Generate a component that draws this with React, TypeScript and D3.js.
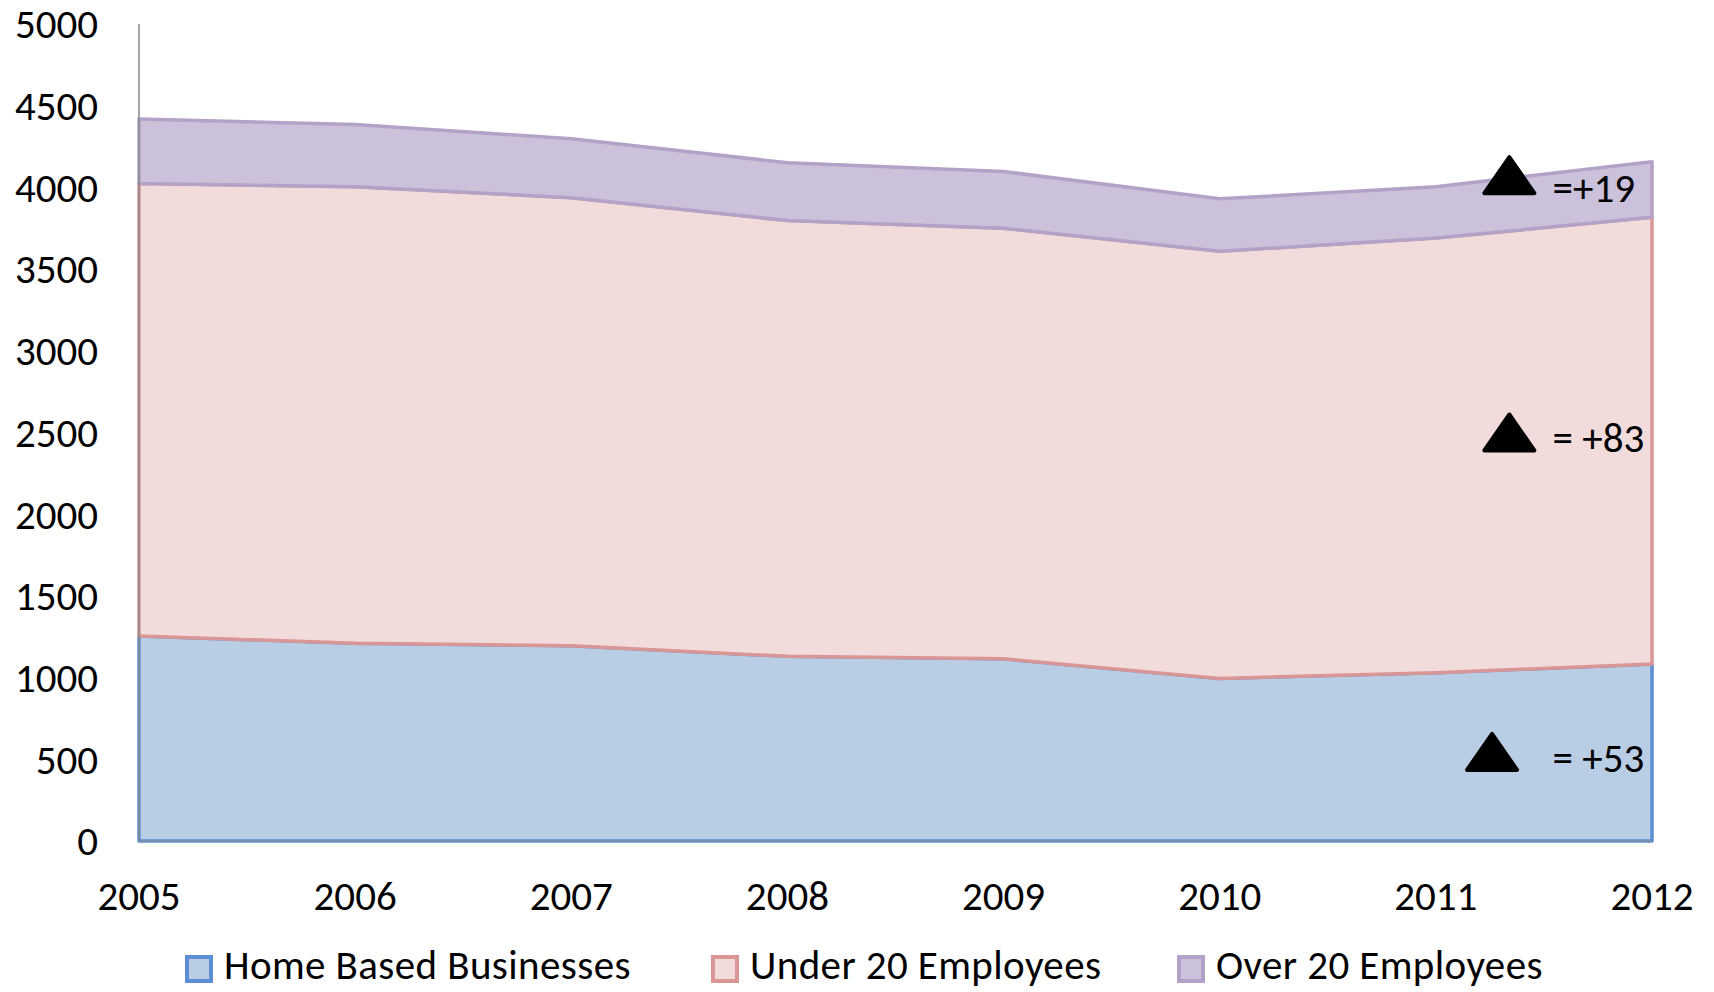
import React, { useEffect, useRef } from 'react';
import * as d3 from 'd3';

const years = [2005, 2006, 2007, 2008, 2009, 2010, 2011, 2012];
const homeBased = [1255, 1210, 1195, 1130, 1115, 995, 1030, 1083];
const under20 = [2769, 2794, 2742, 2667, 2635, 2614, 2660, 2734];
const over20 = [394, 381, 361, 354, 347, 321, 314, 340];
const yTicks = [0, 500, 1000, 1500, 2000, 2500, 3000, 3500, 4000, 4500, 5000];

const seriesNames = ['Home Based Businesses', 'Under 20 Employees', 'Over 20 Employees'];
const fills = ['#b9cde5', '#f2dcdb', '#ccc1da'];
const strokes = ['#5b8ed3', '#d99694', '#b3a2c7'];

// annotation markers: triangle position (year, value), label position
const notes = [
  { tx: 2011.34, ty: 4075, lx: 2011.54, ly: 4000, text: '=+19' },
  { tx: 2011.34, ty: 2500, lx: 2011.54, ly: 2470, text: '= +83' },
  { tx: 2011.26, ty: 545, lx: 2011.54, ly: 508, text: '= +53' },
];

const W = 1714;
const H = 992;
const FONT = 'Carlito, Calibri, Lato, sans-serif';

export default function App() {
  const ref = useRef<SVGSVGElement>(null);

  useEffect(() => {
    if (!ref.current) return;
    const svg = d3.select(ref.current);
    svg.selectAll('*').remove();

    const left = 139, right = 1652, top = 24, bottom = 841;

    const x = d3.scaleLinear().domain([2005, 2012]).range([left, right]);
    const y = d3.scaleLinear().domain([0, 5000]).range([bottom, top]);

    const rows = years.map((yr, i) => ({
      year: yr,
      home: homeBased[i],
      under: under20[i],
      over: over20[i],
    }));
    const stack = d3.stack<any>().keys(['home', 'under', 'over']);
    const layers = stack(rows);

    const area = d3.area<any>()
      .x(d => x(d.data.year))
      .y0(d => y(d[0]))
      .y1(d => y(d[1]));

    layers.forEach((layer, i) => {
      svg.append('path')
        .attr('d', area(layer as any))
        .attr('fill', fills[i])
        .attr('stroke', strokes[i])
        .attr('stroke-width', 3.5)
        .attr('stroke-linejoin', 'round');
    });

    // axes
    svg.append('line')
      .attr('x1', left).attr('x2', left)
      .attr('y1', top).attr('y2', bottom)
      .attr('stroke', '#888').attr('stroke-width', 1.5);
    svg.append('line')
      .attr('x1', left).attr('x2', right)
      .attr('y1', bottom).attr('y2', bottom)
      .attr('stroke', '#7f8fa6').attr('stroke-width', 1.5);

    svg.append('g')
      .selectAll('text')
      .data(yTicks)
      .join('text')
      .attr('x', 98)
      .attr('y', d => y(d))
      .attr('dy', '0.35em')
      .attr('text-anchor', 'end')
      .attr('font-family', FONT)
      .attr('font-size', 41)
      .text(d => d);

    svg.append('g')
      .selectAll('text')
      .data(years)
      .join('text')
      .attr('x', d => x(d))
      .attr('y', 896)
      .attr('dy', '0.35em')
      .attr('text-anchor', 'middle')
      .attr('font-family', FONT)
      .attr('font-size', 41)
      .text(d => d);

    // annotations
    const triW = 50, triH = 36;
    notes.forEach(n => {
      const cx = x(n.tx), cy = y(n.ty);
      svg.append('path')
        .attr('d', `M${cx},${cy - triH / 2}L${cx + triW / 2},${cy + triH / 2}L${cx - triW / 2},${cy + triH / 2}Z`)
        .attr('fill', '#000')
        .attr('stroke', '#000')
        .attr('stroke-width', 4)
        .attr('stroke-linejoin', 'round');
      svg.append('text')
        .attr('x', x(n.lx))
        .attr('y', y(n.ly))
        .attr('dy', '0.35em')
        .attr('font-family', FONT)
        .attr('font-size', 41)
        .text(n.text);
    });

    // legend
    const legendX = [185, 711, 1177];
    seriesNames.forEach((name, i) => {
      const g = svg.append('g').attr('transform', `translate(${legendX[i]},967)`);
      g.append('rect')
        .attr('x', 2).attr('y', -10)
        .attr('width', 24).attr('height', 24)
        .attr('fill', fills[i])
        .attr('stroke', strokes[i])
        .attr('stroke-width', 4);
      g.append('text')
        .attr('x', 39)
        .attr('y', 0)
        .attr('dy', '0.3em')
        .attr('font-family', FONT)
        .attr('font-size', 41)
        .attr('letter-spacing', 0.4)
        .text(name);
    });
  }, []);

  return (
    <svg
      ref={ref}
      width={W}
      height={H}
      style={{ position: 'absolute', left: 0, top: 0, background: '#fff' }}
    />
  );
}
